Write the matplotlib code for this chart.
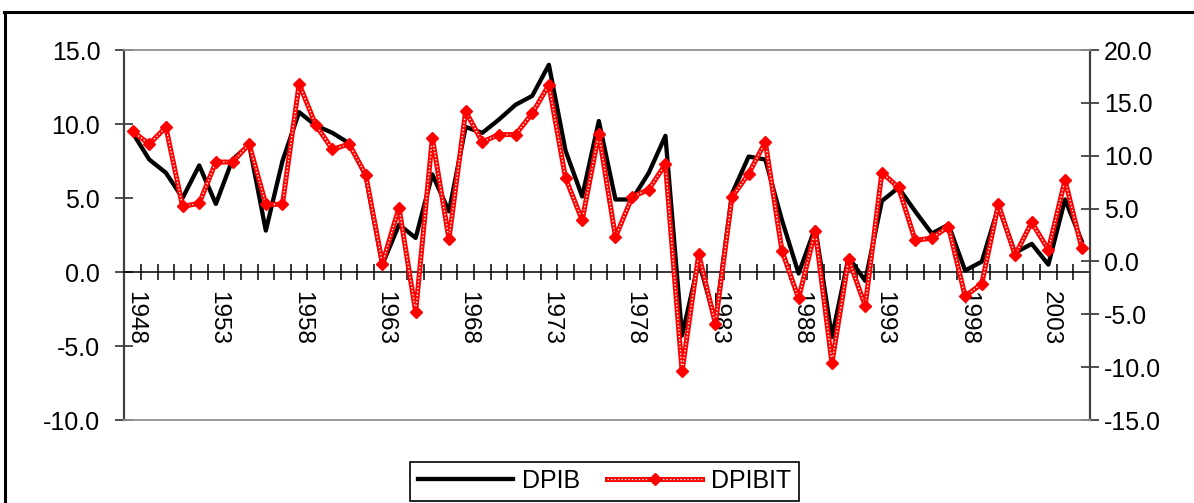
import matplotlib
matplotlib.use("Agg")
import matplotlib.pyplot as plt
import matplotlib.transforms as mtransforms
import numpy as np
from matplotlib.lines import Line2D
from matplotlib.legend_handler import HandlerTuple

plt.rcParams['font.family'] = ['Liberation Sans', 'DejaVu Sans']

years = list(range(1948, 2006))

# left axis series
dpib = [9.4, 7.6, 6.7, 5.0, 7.2, 4.6, 7.6, 8.6, 2.8, 7.5,
        10.8, 9.9, 9.4, 8.7, 6.5, 0.5, 3.2, 2.3, 6.6, 4.1,
        9.8, 9.4, 10.3, 11.3, 11.9, 14.0, 8.2, 5.1, 10.2, 4.9,
        4.9, 6.7, 9.2, -4.3, 0.7, -3.3, 5.3, 7.8, 7.6, 3.5,
        -0.1, 3.0, -4.4, 1.0, -0.6, 4.8, 5.7, 4.1, 2.6, 3.2,
        0.1, 0.7, 4.4, 1.3, 1.9, 0.5, 4.9, 2.1]

# right (secondary) axis series
dpibit = [12.3, 11.1, 12.7, 5.2, 5.5, 9.4, 9.4, 11.1, 5.4, 5.4,
          16.8, 12.9, 10.6, 11.1, 8.2, -0.2, 5.1, -4.8, 11.7, 2.1,
          14.2, 11.3, 12.0, 12.0, 14.0, 16.7, 7.9, 3.9, 12.1, 2.3,
          6.1, 6.8, 9.2, -10.4, 0.7, -5.9, 6.1, 8.3, 11.3, 1.0,
          -3.5, 2.9, -9.6, 0.2, -4.2, 8.4, 7.0, 2.0, 2.2, 3.3,
          -3.3, -2.1, 5.4, 0.6, 3.7, 1.1, 7.7, 1.3]

left_ticks = [-10, -5, 0, 5, 10, 15]
right_ticks = [-15, -10, -5, 0, 5, 10, 15, 20]

W, H = 1194, 503
fig = plt.figure(figsize=(W / 100, H / 100), dpi=100)
ax = fig.add_axes([124.3 / W, 1 - 420 / H, (1090 - 124.3) / W, 370 / H])
ax.set_facecolor('none')

x = np.arange(len(years))
l1, = ax.plot(x, dpib, color='black', lw=3.1, zorder=3)
ax.set_xlim(-0.5, len(years) - 0.5)
ax.set_ylim(-10, 15)
ax.set_yticks(left_ticks)
ax.set_yticklabels([f"{v:.1f}" for v in left_ticks])

ax.set_xticks(x[::5])
ax.set_xticklabels([str(y) for y in years[::5]])
ax.set_xticks(np.arange(0.5, len(years) - 1, 1), minor=True)
ax.tick_params(axis='x', which='major', length=0, pad=14, labelsize=17.5,
               labelrotation=270)
ax.tick_params(axis='x', which='minor', direction='inout', length=11.5,
               width=1.1, color='black')

ax.tick_params(axis='y', direction='inout', length=13, width=1.3,
               color='#404040', pad=10.8, labelsize=18)
ax.spines['bottom'].set_position(('data', 0))
ax.spines['bottom'].set_color('black')
ax.spines['bottom'].set_linewidth(1.1)
ax.spines['left'].set_color('#404040')
ax.spines['left'].set_linewidth(1.6)
ax.spines['top'].set_visible(False)
ax.spines['right'].set_visible(False)

ax2 = ax.twinx()
l2, = ax2.plot(x, dpibit, color='#ff0000', lw=3.6, zorder=3)
l3, = ax2.plot(x, dpibit, color='white', lw=1.0, ls=(0, (1, 1.5)), zorder=4)
l4, = ax2.plot(x, dpibit, ls='none', marker='D', ms=6.5, color='#ff0000',
               mec='#ff0000', zorder=5)
ax2.set_ylim(-15, 20)
ax2.set_yticks(right_ticks)
ax2.set_yticklabels([f"{v:.1f}" for v in right_ticks])
ax2.tick_params(axis='y', direction='inout', length=13, width=1.3,
                color='#404040', pad=3.6, labelsize=18)
ax2.spines['right'].set_color('#404040')
ax2.spines['right'].set_linewidth(1.6)
ax2.spines['left'].set_visible(False)
ax2.spines['top'].set_color('#909090')
ax2.spines['top'].set_linewidth(1.3)
ax2.spines['bottom'].set_color('#909090')
ax2.spines['bottom'].set_linewidth(1.3)

leg = ax2.legend([l1, (l2, l3, l4)], ['DPIB', 'DPIBIT'],
                 handler_map={tuple: HandlerTuple(ndivide=1, pad=0)},
                 loc='center', bbox_to_anchor=(604.5 / W, 1 - 481 / H),
                 bbox_transform=fig.transFigure, ncol=2, fontsize=18,
                 handlelength=3.8, handletextpad=0.35, columnspacing=1.1,
                 borderpad=0.3, fancybox=False, framealpha=1,
                 edgecolor='black')
leg.get_frame().set_linewidth(1.2)

# outer chart frame
fig.add_artist(Line2D([5 / W, 5 / W], [0, 1 - 12 / H], transform=fig.transFigure,
                      color='black', lw=2.2))
fig.add_artist(Line2D([4 / W, 1], [1 - 12 / H, 1 - 12 / H], transform=fig.transFigure,
                      color='black', lw=2.2))

# year labels sit a little right of the category centre
fig.canvas.draw()
off = mtransforms.ScaledTranslation(0.025, 0, fig.dpi_scale_trans)
for lab in ax.get_xticklabels():
    lab.set_transform(lab.get_transform() + off)

fig.savefig('out.png', dpi=100)
